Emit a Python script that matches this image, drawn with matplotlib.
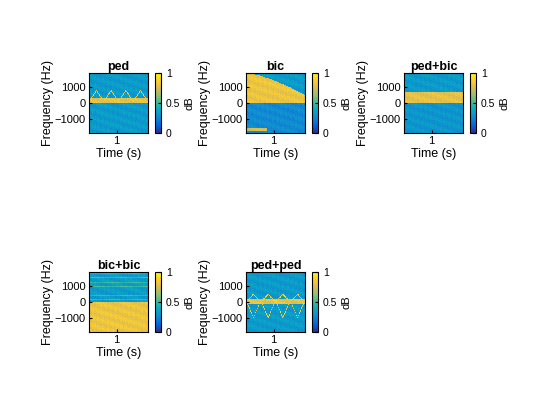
import numpy as np
import matplotlib.pyplot as plt
from matplotlib.colors import LinearSegmentedColormap

# Panel titles and layout (row, col).
titles = ['ped', 'bic', 'ped+bic', 'bic+bic', 'ped+ped']
grid_pos = [(0, 0), (0, 1), (0, 2), (1, 0), (1, 1)]
# Background level of each spectrogram, and levels above/below 0 Hz.
bg_upper = [0.33, 0.82, 0.33, 0.34, 0.33]
bg_lower = [0.33, 0.27, 0.31, 0.82, 0.33]
# Yellow band [low, high] in Hz (None = no band).
bands = [(0, 300), None, (0, 700), None, (-100, 200)]
# Triangle chirp lines: (base Hz, peak Hz, periods).
chirps = [[(100, 800, 4)], [], [], [], [(0, 500, 4), (100, -1000, 4)]]
# bic upper-edge of energy: Hz at left and right end.
bic_edge = (1900, 500)

freq_lim = (-1900, 1900)
time_lim = (0.3, 1.8)

parula = LinearSegmentedColormap.from_list('parula', [
    '#352a87', '#0363e1', '#1485d4', '#06a7c6', '#38b99e',
    '#92bf73', '#d9ba56', '#fcce2e', '#f9fb0e'])

f = np.linspace(freq_lim[0], freq_lim[1], 200)
t = np.linspace(time_lim[0], time_lim[1], 200)
T, F = np.meshgrid(t, f)
# Fine deterministic texture for a spectrogram look.
tex = 0.07 * np.sin(T * 913.7 + F * 0.731) * np.cos(F * 1.377 - T * 517.3)


def make_image(i):
    img = np.where(F >= 0, bg_upper[i], bg_lower[i]).astype(float)
    if titles[i] == 'bic':
        u = (T - time_lim[0]) / (time_lim[1] - time_lim[0])
        edge = bic_edge[0] + (bic_edge[1] - bic_edge[0]) * u ** 1.5
        img[(F >= 0) & (F > edge)] = 0.33
        img[(F < -1600) & (F > -1800) & (u < 0.35)] = 0.75
    if titles[i] == 'bic+bic':
        img[(F > 0) & (np.abs(np.sin(F / 90.0)) > 0.97)] = 0.5
    if bands[i] is not None:
        lo, hi = bands[i]
        img[(F > lo) & (F < hi)] = 0.8
    for base, peak, n in chirps[i]:
        u = (T - time_lim[0]) / (time_lim[1] - time_lim[0]) * n
        tri = base + (peak - base) * (1 - np.abs(2 * (u % 1) - 1))
        img[np.abs(F - tri) < 45] = 0.85
    return np.clip(img + tex, 0, 1)


fig = plt.figure(figsize=(5.6, 4.2), dpi=100)
plt.rcParams['font.family'] = ['Liberation Sans', 'DejaVu Sans']
W, H = 560.0, 420.0
col_x = [89, 246, 404]
row_y = [73, 272]
aw, ah = 59, 60
for i, title in enumerate(titles):
    r, c = grid_pos[i]
    x0, y0 = col_x[c], row_y[r]
    ax = fig.add_axes([x0 / W, 1 - (y0 + ah) / H, aw / W, ah / H])
    im = ax.imshow(make_image(i), cmap=parula, vmin=0, vmax=1, aspect='auto',
                   origin='lower', extent=[*time_lim, *freq_lim],
                   interpolation='nearest')
    ax.set_xticks([1])
    ax.set_yticks([-1000, 0, 1000])
    ax.tick_params(labelsize=8, length=2, direction='in', pad=2.5)
    ax.set_title(title, fontsize=9, fontweight='bold', pad=2)
    ax.set_xlabel('Time (s)', fontsize=9, labelpad=1)
    ax.set_ylabel('Frequency (Hz)', fontsize=9, labelpad=0)
    cax = fig.add_axes([(x0 + aw + 7) / W, 1 - (y0 + ah) / H, 6 / W, ah / H])
    cb = fig.colorbar(im, cax=cax, ticks=[0, 0.5, 1])
    cb.ax.set_yticklabels(['0', '0.5', '1'])
    cb.ax.tick_params(labelsize=7.5, length=2, direction='in')
    # Place the 'dB' label by hand so it clears the tick labels.
    cax.text(5.8, 0.5, 'dB', transform=cax.transAxes, rotation=90,
             ha='center', va='center', fontsize=8)

fig.savefig('out.png', dpi=100)
